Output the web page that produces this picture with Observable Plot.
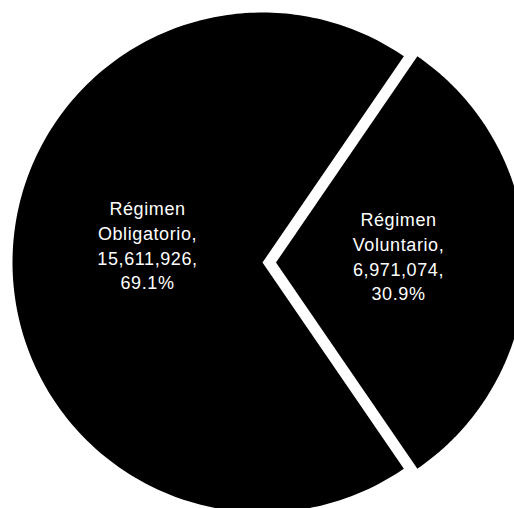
<!DOCTYPE html>
<html>
<head>
<meta charset="utf-8">
<script src="https://cdn.jsdelivr.net/npm/d3@7"></script>
<script src="https://cdn.jsdelivr.net/npm/@observablehq/plot@0.6"></script>
<style>
  html, body { margin: 0; padding: 0; background: #fff; }
  #chart svg { display: block; }
  #chart svg text { letter-spacing: 0.6px; }
</style>
</head>
<body>
<div id="chart"></div>
<script>
const categories = ["Régimen Obligatorio", "Régimen Voluntario"];
const nameLines = [["Régimen", "Obligatorio,"], ["Régimen", "Voluntario,"]];
const values = [15611926, 6971074];
const valueLabels = ["15,611,926", "6,971,074"];
const percentLabels = ["69.1%", "30.9%"];
const exploded = [false, true];

const W = 514, H = 508;
const R = 250, cx = 262, cy = 262;
const total = d3.sum(values);
const volFrac = values[1] / total;
// angles measured clockwise from 12 o'clock; Voluntario centred on the right
const startAngle = Math.PI / 2 + volFrac * Math.PI;
let acc = startAngle;
const slices = values.map((v, i) => {
  const a0 = acc, a1 = acc + (v / total) * 2 * Math.PI;
  acc = a1;
  return {i, a0, a1, mid: (a0 + a1) / 2};
});
const explodeR = 0.054;
const labelR = [0.46, 0.49];
const labelLift = [18 / R, 7 / R];

const polyPts = [];
const labelPts = [];
for (const s of slices) {
  const ox = exploded[s.i] ? explodeR * Math.sin(s.mid) : 0;
  const oy = exploded[s.i] ? explodeR * Math.cos(s.mid) : 0;
  const key = categories[s.i];
  polyPts.push({key, x: ox, y: oy});
  const n = 240;
  for (let k = 0; k <= n; k++) {
    const a = s.a0 + (s.a1 - s.a0) * k / n;
    polyPts.push({key, x: ox + Math.sin(a), y: oy + Math.cos(a)});
  }
  polyPts.push({key, x: ox, y: oy});
  labelPts.push({
    x: ox + labelR[s.i] * Math.sin(s.mid),
    y: oy + labelR[s.i] * Math.cos(s.mid) + labelLift[s.i],
    text: [...nameLines[s.i], valueLabels[s.i] + ",", percentLabels[s.i]].join("\n")
  });
}

const chart = Plot.plot({
  width: W,
  height: H,
  margin: 0,
  x: {domain: [-cx / R, (W - cx) / R], axis: null},
  y: {domain: [-(H - cy) / R, cy / R], axis: null},
  style: {background: "#fff"},
  marks: [
    Plot.line(polyPts, {x: "x", y: "y", z: "key", fill: "#000", stroke: "none", curve: "linear"}),
    Plot.text(labelPts, {
      x: "x", y: "y", text: "text",
      fill: "#fff",
      fontSize: 18,
      lineHeight: 1.37,
      lineAnchor: "middle",
      fontFamily: "Liberation Sans, Arial, sans-serif"
    })
  ]
});
document.getElementById("chart").append(chart);
</script>
</body>
</html>
